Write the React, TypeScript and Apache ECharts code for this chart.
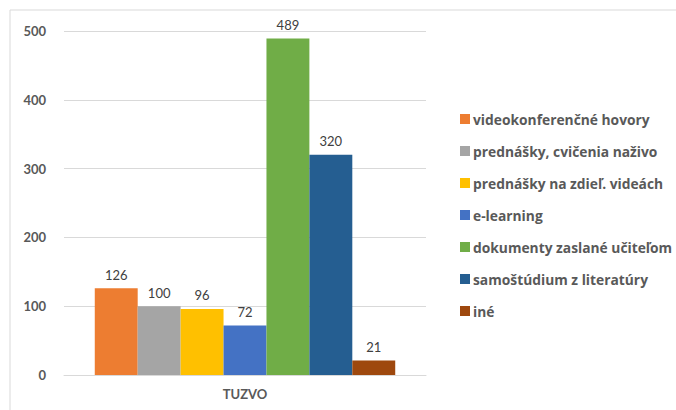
import React, { useEffect, useRef } from "react";
import * as echarts from "echarts";

const categories = ["TUZVO"];
const seriesNames = [
  "videokonferenčné hovory",
  "prednášky, cvičenia naživo",
  "prednášky na zdieľ. videách",
  "e-learning",
  "dokumenty zaslané učiteľom",
  "samoštúdium z literatúry",
  "iné",
];
const seriesValues = [126, 100, 96, 72, 489, 320, 21];
const seriesColors = ["#ED7D31", "#A5A5A5", "#FFC000", "#4472C4", "#70AD47", "#255E91", "#9E480E"];
const yTicks = [0, 100, 200, 300, 400, 500];

const FONT = "Lato, 'Open Sans', sans-serif";
const LEGEND_FONT = "'Open Sans', Lato, sans-serif";

export default function App() {
  const ref = useRef<HTMLDivElement>(null);
  useEffect(() => {
    if (!ref.current) return;
    const chart = echarts.init(ref.current, undefined, { renderer: "svg" });
    chart.setOption({
      animation: false,
      backgroundColor: "#ffffff",
      textStyle: { fontFamily: FONT },
      graphic: [
        {
          type: "rect",
          shape: { x: 10, y: 10, width: 720, height: 450 },
          style: { fill: "none", stroke: "#d9d9d9", lineWidth: 1 },
          silent: true,
        },
      ],
      grid: { left: 64, right: 250, top: 31, bottom: 35 },
      legend: {
        orient: "vertical",
        left: 455,
        top: 106,
        itemWidth: 10,
        itemHeight: 10,
        itemGap: 16,
        icon: "rect",
        data: seriesNames,
        textStyle: {
          fontFamily: LEGEND_FONT,
          fontSize: 13.8,
          lineHeight: 16,
          fontWeight: "bold",
          color: "#595959",
          padding: [0, 0, 0, -2],
        },
      },
      xAxis: {
        type: "category",
        data: categories,
        axisLine: { lineStyle: { color: "#d9d9d9" } },
        axisTick: { show: false },
        axisLabel: { fontFamily: FONT, fontSize: 13, fontWeight: "bold", color: "#595959", margin: 12 },
      },
      yAxis: {
        type: "value",
        min: yTicks[0],
        max: yTicks[yTicks.length - 1],
        interval: 100,
        axisLine: { show: false },
        axisTick: { show: false },
        splitLine: { lineStyle: { color: "#d9d9d9" } },
        axisLabel: { fontFamily: FONT, fontSize: 13, fontWeight: "bold", color: "#595959", margin: 18 },
      },
      series: seriesNames.map((name, i) => ({
        name,
        type: "bar",
        data: [seriesValues[i]],
        barGap: "0%",
        barCategoryGap: "17%",
        itemStyle: { color: seriesColors[i] },
        label: {
          show: true,
          position: "top",
          distance: 7,
          fontFamily: FONT,
          fontSize: 13,
          color: "#404040",
        },
      })),
    });
    return () => chart.dispose();
  }, []);
  return <div ref={ref} style={{ position: "absolute", left: 0, top: 0, width: 676, height: 410 }} />;
}
